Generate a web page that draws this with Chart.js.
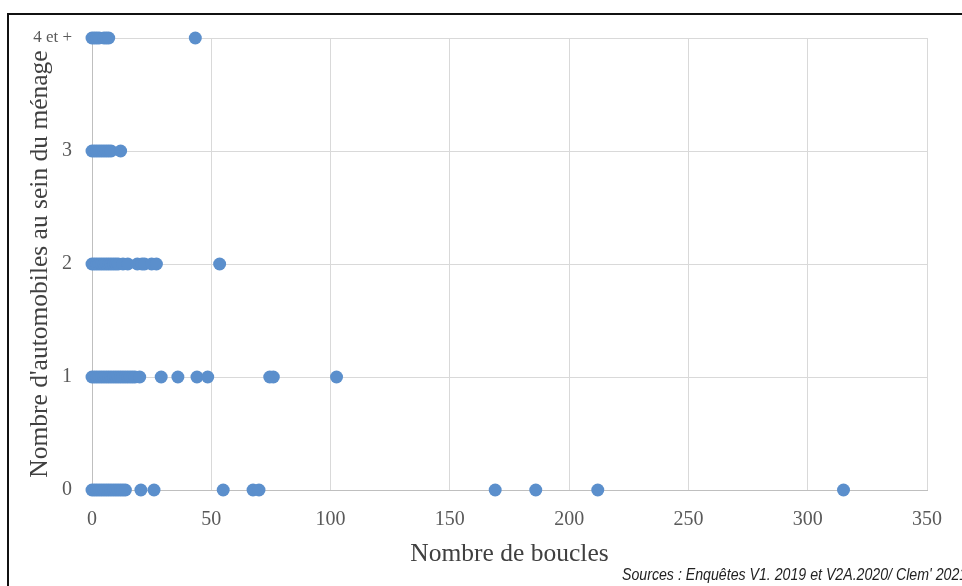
<!DOCTYPE html>
<html>
<head>
<meta charset="utf-8">
<script src="https://cdn.jsdelivr.net/npm/chart.js@4"></script>
<style>
  body { margin: 0; background: #fff; }
  #wrap { position: relative; width: 962px; height: 586px; overflow: hidden; }
  #frame { position: absolute; left: 7px; top: 13px; width: 970px; height: 590px; border: 2px solid #111; box-sizing: border-box; }
  #chart { position: absolute; left: 0; top: 0; }
  #source { position: absolute; left: 622px; top: 566px; font-family: 'Liberation Sans', sans-serif; font-style: italic; font-size: 16px; color: #222; white-space: nowrap; transform: scaleX(0.885); transform-origin: left top; }
</style>
</head>
<body>
<div id="wrap">
  <div id="frame"></div>
  <canvas id="chart" width="962" height="586"></canvas>
  <div id="source">Sources : Enquêtes V1. 2019 et V2A.2020/ Clem' 2021</div>
</div>
<script>
// nombre de boucles par nombre d'automobiles du ménage
const boucles0 = [0, 1, 2, 3, 4, 5, 6, 7, 8, 9, 10, 11, 12, 13, 14, 20.5, 26, 55, 67.5, 70, 169, 186, 212, 315];
const boucles1 = [0, 1, 2, 3, 4, 5, 6, 7, 8, 9, 10, 11, 12, 13, 14, 15, 16, 17, 18, 20, 29, 36, 44, 48.5, 74.5, 76, 102.5];
const boucles2 = [0, 1, 2, 3, 4, 5, 6, 7, 8, 9, 10, 11, 13, 15, 19, 21, 22, 25, 27, 53.5];
const boucles3 = [0, 1, 2, 3, 4, 5, 6, 7, 8, 12];
const boucles4 = [0, 1, 2, 3, 5, 6, 7, 43.3];
const yLabels = ['0', '1', '2', '3', '4 et +'];

const points = [];
[boucles0, boucles1, boucles2, boucles3, boucles4].forEach((row, nb) => {
    row.forEach(v => points.push({ x: v, y: nb }));
});

const ctx = document.getElementById('chart');

new Chart(ctx, {
    type: 'scatter',
    data: {
        datasets: [{
            label: 'Ménages',
            data: points,
            backgroundColor: '#5b8fcc',
            borderWidth: 0,
            pointRadius: 6.5,
            clip: false
        }]
    },
    options: {
        responsive: false,
        animation: false,
        layout: { padding: { left: 10, top: 38, right: 35, bottom: 0 } },
        plugins: { legend: { display: false }, tooltip: { enabled: false } },
        scales: {
            x: {
                min: 0,
                max: 350,
                ticks: {
                    stepSize: 50,
                    padding: 18,
                    color: '#595959',
                    font: { family: 'Liberation Serif', size: 20 }
                },
                grid: { color: '#d9d9d9', drawTicks: false },
                border: { color: '#bfbfbf' },
                title: {
                    display: true,
                    text: 'Nombre de boucles',
                    color: '#404040',
                    padding: { top: 0, bottom: 16 },
                    font: { family: 'Liberation Serif', size: 25.5 }
                },
                afterFit: scale => { scale.height = 96; }
            },
            y: {
                min: 0,
                max: 4,
                ticks: {
                    stepSize: 1,
                    padding: 20,
                    color: '#595959',
                    callback: v => yLabels[v],
                    font: c => ({ family: 'Liberation Serif', size: c.tick && c.tick.value === 4 ? 17 : 20 })
                },
                grid: { color: '#d9d9d9', drawTicks: false },
                border: { color: '#bfbfbf' },
                title: {
                    display: true,
                    text: "Nombre d'automobiles au sein du ménage",
                    color: '#404040',
                    padding: { top: 15, bottom: 0 },
                    font: { family: 'Liberation Serif', size: 25.5 }
                },
                afterFit: scale => { scale.width = 82; }
            }
        }
    }
});
</script>
</body>
</html>
